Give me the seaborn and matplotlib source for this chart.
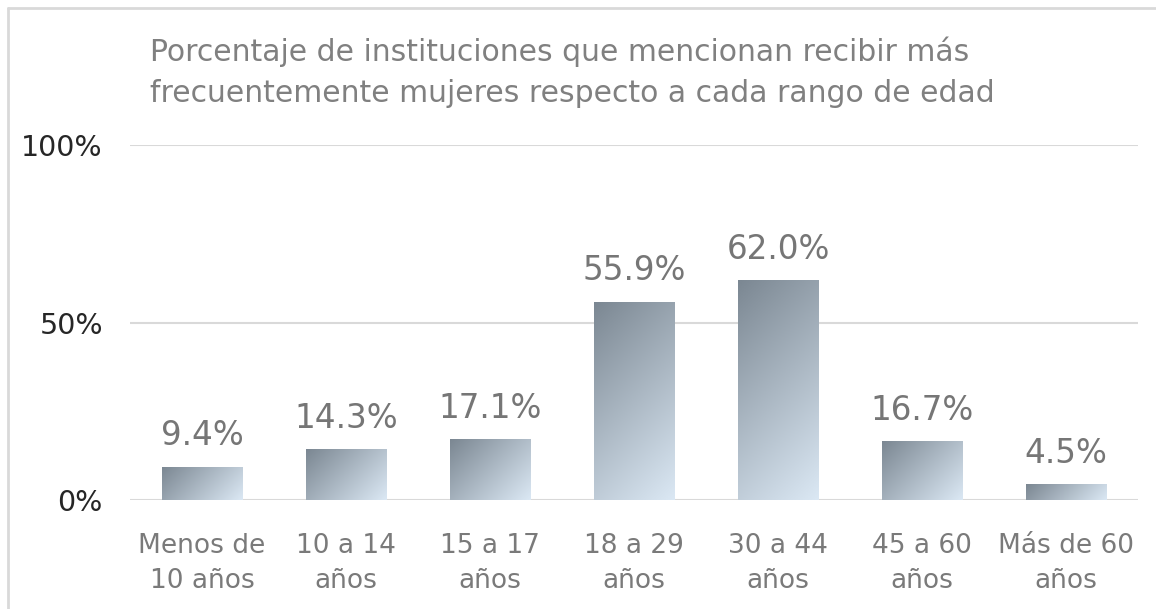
import numpy as np
import pandas as pd
import matplotlib
matplotlib.use("Agg")
import matplotlib.pyplot as plt
import seaborn as sns
from matplotlib.colors import LinearSegmentedColormap
from matplotlib.lines import Line2D

categories = ["Menos de\n10 años", "10 a 14\naños", "15 a 17\naños", "18 a 29\naños",
              "30 a 44\naños", "45 a 60\naños", "Más de 60\naños"]
values = [9.4, 14.3, 17.1, 55.9, 62.0, 16.7, 4.5]
yticks = [0, 50, 100]
ytick_labels = ["0%", "50%", "100%"]
title = "Porcentaje de instituciones que mencionan recibir más\nfrecuentemente mujeres respecto a cada rango de edad"

sns.set_theme(style="white")
plt.rcParams['font.family'] = ['DejaVu Sans']

W, H = 1156, 609
fig = plt.figure(figsize=(W / 100, H / 100), dpi=100)
ax = fig.add_axes([130 / W, 1 - 500 / H, (1138 - 130) / W, (500 - 145) / H])

df = pd.DataFrame({"cat": categories, "val": values})
sns.barplot(data=df, x="cat", y="val", ax=ax, width=0.56, color="#a0adb8",
            edgecolor="none", zorder=3)

ax.set_ylim(0, 100)
ax.set_xlim(-0.5, len(categories) - 0.5)

cmap = LinearSegmentedColormap.from_list("g", ["#7b8792", "#dbe8f4"])
gx, gy = np.meshgrid(np.linspace(0, 1, 64), np.linspace(0, 1, 256))
for i, p in enumerate(ax.patches):
    x0, y0 = p.get_x(), p.get_y()
    w, h = p.get_width(), p.get_height()
    wp = w * (1008 / 7)
    hp = h * 3.55
    grad = (gx * wp + gy * hp) / (wp + hp)  # row 0 = top (origin upper): dark top-left
    im = ax.imshow(grad, cmap=cmap, vmin=0, vmax=1, extent=[x0, x0 + w, y0, y0 + h],
                   origin="upper", aspect="auto", zorder=4)
    im.set_clip_path(p)
    ax.text(x0 + w / 2, y0 + h + 4.0, f"{values[i]:.1f}%",
            ha="center", va="bottom", fontsize=23.5, color="#767676", zorder=5)

ax.set_aspect("auto")
ax.set_xlim(-0.5, len(categories) - 0.5)
ax.set_ylim(0, 100)

ax.set_yticks(yticks)
ax.set_yticklabels(ytick_labels, fontsize=20.5, color="#262626")
ax.tick_params(axis="y", length=0, pad=19.5)
ax.tick_params(axis="x", length=0, pad=23.5)
ax.set_xticks(range(len(categories)))
ax.set_xticklabels(categories, fontsize=19, color="#7a7a7a", linespacing=1.45)
ax.grid(axis="y", color="#d9d9d9", linewidth=1.5, zorder=0)
ax.set_axisbelow(True)
for s in ax.spines.values():
    s.set_visible(False)
ax.set_xlabel("")
ax.set_ylabel("")

fig.text(150 / W, 1 - 72 / H, title, ha="left", va="center", fontsize=21.5,
         color="#808080", linespacing=1.5)

fig.add_artist(Line2D([8 / W, 1.0], [1 - 8 / H, 1 - 8 / H], transform=fig.transFigure,
                      color="#d9d9d9", linewidth=2))
fig.add_artist(Line2D([8 / W, 8 / W], [0, 1 - 8 / H], transform=fig.transFigure,
                      color="#d9d9d9", linewidth=2))

fig.savefig("out.png", dpi=100)
